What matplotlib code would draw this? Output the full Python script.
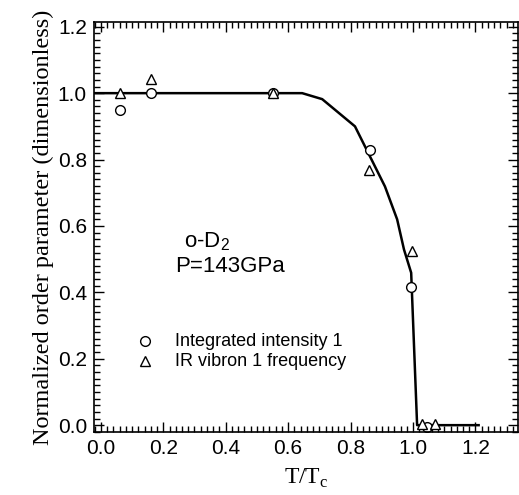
import numpy as np
import matplotlib
matplotlib.use("Agg")
import matplotlib.pyplot as plt
from matplotlib.ticker import MultipleLocator

plt.rcParams["font.family"] = ["Liberation Sans", "DejaVu Sans"]
plt.rcParams["mathtext.fontset"] = "custom"
plt.rcParams["mathtext.rm"] = "Liberation Serif"
plt.rcParams["mathtext.sf"] = "Liberation Sans"

# Integrated intensity 1 (circles)
circ_x = [0.062, 0.16, 0.552, 0.862, 0.994, 1.045]
circ_y = [0.95, 1.0, 1.0, 0.83, 0.417, -0.005]

# IR vibron 1 frequency (triangles)
tri_x = [0.062, 0.16, 0.552, 0.859, 0.997, 1.03, 1.07]
tri_y = [1.0, 1.044, 1.0, 0.77, 0.526, 0.005, 0.005]

# model curve
fit_x = [-0.05, 0.645, 0.709, 0.814, 0.91, 0.949, 0.971, 0.994, 1.013, 1.21]
fit_y = [1.0, 1.0, 0.982, 0.90, 0.719, 0.62, 0.529, 0.459, 0.0, 0.0]

fig = plt.figure(figsize=(5.19, 4.95), dpi=100)
ax = fig.add_axes([0.181, 0.127, 0.817, 0.829])

ax.plot(fit_x, fit_y, color="black", lw=1.8)
ax.plot(circ_x, circ_y, ls="none", marker="o", ms=7, mfc="white", mec="black", mew=1.0)
ax.plot(tri_x, tri_y, ls="none", marker="^", ms=7, mfc="white", mec="black", mew=1.0)

ax.set_xlim(-0.022, 1.336)
ax.set_ylim(-0.021, 1.215)
ax.xaxis.set_major_locator(MultipleLocator(0.2))
ax.xaxis.set_minor_locator(MultipleLocator(0.02))
ax.yaxis.set_major_locator(MultipleLocator(0.2))
ax.yaxis.set_minor_locator(MultipleLocator(0.02))
ax.xaxis.set_major_formatter(matplotlib.ticker.FormatStrFormatter("%.1f"))
ax.yaxis.set_major_formatter(matplotlib.ticker.FormatStrFormatter("%.1f"))
ax.tick_params(which="both", direction="in", top=True, right=True, width=1.0, labelsize=15)
ax.tick_params(which="major", length=7.5, pad=5)
ax.tick_params(which="minor", length=4)
for sp in ax.spines.values():
    sp.set_linewidth(1.2)

ax.set_xlabel(r"T/T$_\mathrm{c}$", family="Liberation Serif", fontsize=17, labelpad=6)
ax.set_ylabel("Normalized order parameter (dimensionless)", family="Liberation Serif",
              fontsize=17.5, labelpad=3)

ax.text(0.265, 0.553, r"o-D$_\mathsf{2}$", fontsize=16, ha="left", va="center")
ax.text(0.237, 0.478, "P=143GPa", fontsize=16, ha="left", va="center")

ax.plot([0.142], [0.252], ls="none", marker="o", ms=7, mfc="white", mec="black", mew=1.0)
ax.plot([0.142], [0.192], ls="none", marker="^", ms=7, mfc="white", mec="black", mew=1.0)
ax.text(0.237, 0.252, "Integrated intensity 1", fontsize=13, ha="left", va="center")
ax.text(0.237, 0.192, "IR vibron 1 frequency", fontsize=13, ha="left", va="center")

fig.savefig("out.png", dpi=100)
